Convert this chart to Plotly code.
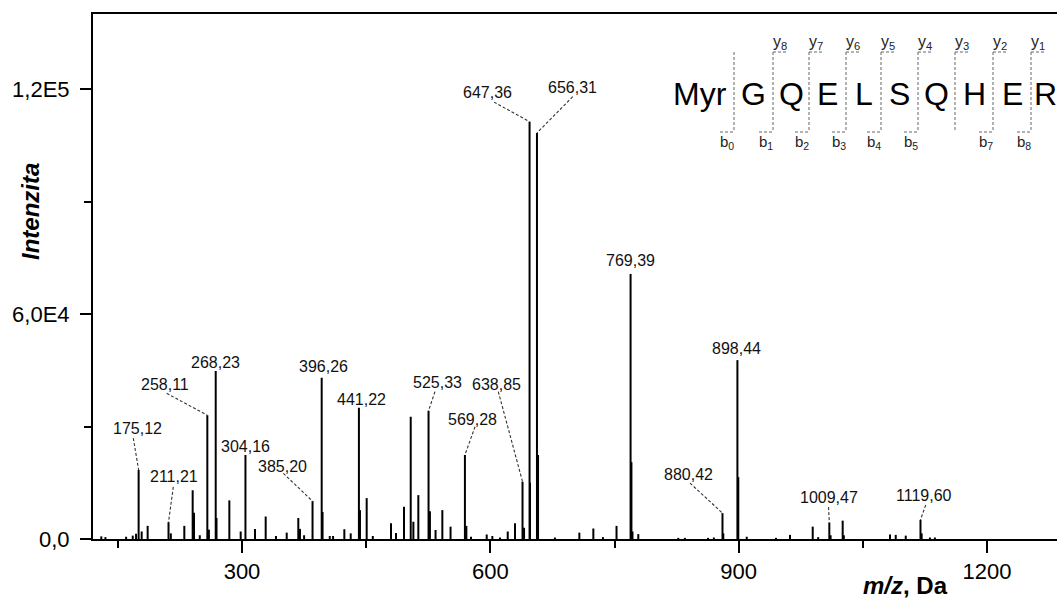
import plotly.graph_objects as go

# ---- MS/MS spectrum of Myr-GQELSQHER ----
# Annotated fragment peaks (m/z, intensity)
label_mz = [175.12, 211.21, 258.11, 268.23, 304.16, 385.20, 396.26, 441.22,
            525.33, 569.28, 638.85, 647.36, 656.31, 769.39, 880.42, 898.44,
            1009.47, 1119.60]
label_int = [18400, 4500, 33000, 44800, 22400, 10100, 43000, 35000,
             34200, 22400, 15300, 111300, 108300, 70700, 6900, 47700,
             4400, 5100]

# Remaining (unlabelled) peaks
other_mz = [130, 135, 160, 168, 172, 178.8, 186.0, 214.0, 230.3, 240.4, 242.0,
            249.0, 260.0, 269.2, 284.7, 298.4, 315.7, 328.6, 341.0, 354.0,
            368.0, 370.0, 375.0, 397.3, 406.0, 410.0, 423.6, 431.3, 442.5,
            450.6, 458.0, 480.0, 486.0, 495.7, 503.8, 507.0, 513.0, 527.0,
            533.8, 542.0, 551.9, 571.0, 576.6, 595.6, 602.4, 611.7, 621.0,
            629.8, 640.7, 647.86, 657.6, 678.0, 707.5, 724.4, 736.0, 752.4,
            770.4, 771.7, 778.7, 827.0, 835.0, 863.0, 870.0, 881.4, 899.5,
            909.7, 945.0, 962.0, 989.4, 996.0, 1011.0, 1025.6, 1027.0,
            1082.8, 1089.7, 1101.8, 1121.0, 1131.0, 1137.0]
other_int = [700, 500, 600, 900, 1400, 2000, 3500, 1500, 3500, 13000, 7000,
             1000, 2500, 5600, 10300, 2000, 2700, 6000, 800, 1700,
             5600, 2700, 1000, 7200, 800, 800, 2600, 1500, 7700,
             10900, 800, 4200, 1600, 8600, 32600, 4600, 11700, 7400,
             2400, 7700, 3300, 3500, 600, 1200, 800, 400, 2000,
             4200, 3000, 15000, 22400, 400, 1700, 2800, 500, 3500,
             20500, 2000, 1300, 300, 300, 300, 400, 1500, 16500,
             600, 300, 1100, 3300, 500, 1000, 4900, 1000,
             1200, 1100, 900, 1500, 400, 400]

# Peak label text and label placement (m/z, intensity) plus optional leader start
label_text = ["175,12", "211,21", "258,11", "268,23", "304,16", "385,20",
              "396,26", "441,22", "525,33", "569,28", "638,85", "647,36",
              "656,31", "769,39", "880,42", "898,44", "1009,47", "1119,60"]
label_pos = [(173.2, 29600), (217.6, 16800), (206.7, 41250), (268.3, 47000),
             (304.2, 24800), (349.5, 19300), (398.7, 46100), (444.0, 37250),
             (536.2, 41700), (578.7, 31900), (607.7, 41250), (596.0, 119200),
             (699.2, 120350), (768.7, 74400), (838.8, 17070), (896.8, 50900),
             (1009.1, 11200), (1123.6, 11700)]
leader_from = [(168.7, 26900), (217.0, 13900), (209.0, 38850), None,
               None, (349.9, 17500), None, None,
               (533.1, 39300), (581.5, 29950), (609.6, 39300), (604.4, 116500),
               (699.5, 117950), None, (841.2, 14900), None,
               (1008.5, 8500), (1125.9, 9070)]

# Peptide sequence with fragment ion ladders
residues = ["Myr", "G", "Q", "E", "L", "S", "Q", "H", "E", "R"]
y_ions = ["8", "7", "6", "5", "4", "3", "2", "1"]
b_ions = ["0", "1", "2", "3", "4", "5", None, "7", "8"]

FONT = "Arial, 'Liberation Sans', sans-serif"

all_mz = label_mz + other_mz
all_int = label_int + other_int

# build stick spectrum
xs, ys = [], []
for m, v in sorted(zip(all_mz, all_int)):
    xs += [m, m, None]
    ys += [0, v, None]

fig = go.Figure()
fig.add_trace(go.Scatter(x=xs, y=ys, mode="lines",
                         line=dict(color="black", width=2),
                         hoverinfo="skip", showlegend=False))

annotations = []
shapes = []

# peak labels and dashed leaders
for txt, (lx, ly), lf, m, v in zip(label_text, label_pos, leader_from,
                                    label_mz, label_int):
    annotations.append(dict(x=lx, y=ly, xref="x", yref="y", text=txt,
                            showarrow=False, xanchor="center", yanchor="middle",
                            font=dict(family=FONT, size=16, color="#111")))
    if lf is not None:
        shapes.append(dict(type="line", xref="x", yref="y",
                           x0=lf[0], y0=lf[1], x1=m, y1=v,
                           line=dict(color="#333", width=1.1, dash="3px,2px")))

# ---- peptide diagram (positions in plot-area pixels) ----
PL, PT, PW, PH = 93, 14, 964, 525


def fx(px):
    return (px - PL) / PW


def fy(py):
    return (PT + PH - py) / PH


seps = [734, 773, 809, 846, 881, 918, 955, 993, 1031]
res_x = [700] + [(a + b) / 2 for a, b in zip(seps[:-1], seps[1:])] + [1045]
for r, cx in zip(residues, res_x):
    annotations.append(dict(x=fx(cx), y=fy(94), xref="paper", yref="paper",
                            text=r, showarrow=False, xanchor="center",
                            yanchor="middle",
                            font=dict(family=FONT, size=32, color="black")))

sep_style = dict(color="#666", width=1, dash="3px,2px")
top_y, bot_y = 52, 132
for s in seps:
    shapes.append(dict(type="line", xref="paper", yref="paper",
                       x0=fx(s), x1=fx(s), y0=fy(top_y), y1=fy(bot_y),
                       line=sep_style))
for s, n in zip(seps[1:], y_ions):
    shapes.append(dict(type="line", xref="paper", yref="paper",
                       x0=fx(s), x1=fx(s + 14), y0=fy(top_y), y1=fy(top_y),
                       line=sep_style))
    annotations.append(dict(x=fx(s + 7), y=fy(43), xref="paper", yref="paper",
                            text="y<sub>" + n + "</sub>", showarrow=False,
                            xanchor="center", yanchor="middle",
                            font=dict(family=FONT, size=16, color="#222")))
for s, n in zip(seps, b_ions):
    if n is None:
        continue
    shapes.append(dict(type="line", xref="paper", yref="paper",
                       x0=fx(s - 14), x1=fx(s), y0=fy(bot_y), y1=fy(bot_y),
                       line=sep_style))
    annotations.append(dict(x=fx(s - 7), y=fy(143), xref="paper", yref="paper",
                            text="b<sub>" + n + "</sub>", showarrow=False,
                            xanchor="center", yanchor="middle",
                            font=dict(family=FONT, size=15, color="#222")))

# axis titles
annotations.append(dict(x=fx(31), y=fy(212), xref="paper", yref="paper",
                        text="<b><i>Intenzita</i></b>", textangle=-90,
                        showarrow=False, xanchor="center", yanchor="middle",
                        font=dict(family=FONT, size=24, color="black")))
annotations.append(dict(x=fx(905), y=fy(585), xref="paper", yref="paper",
                        text="<b><i>m/z</i>, Da</b>",
                        showarrow=False, xanchor="center", yanchor="middle",
                        font=dict(family=FONT, size=24, color="black")))

fig.update_layout(
    width=1057, height=601,
    margin=dict(l=PL, r=0, t=PT, b=601 - PT - PH),
    paper_bgcolor="white", plot_bgcolor="white",
    font=dict(family=FONT, color="black"),
    annotations=annotations, shapes=shapes,
    showlegend=False,
)
fig.update_xaxes(
    range=[120, 1284.5], showgrid=False, zeroline=False,
    showline=True, linecolor="black", linewidth=2, mirror=True,
    ticks="outside", ticklen=12, tickwidth=2, tickcolor="black",
    tickvals=[300, 600, 900, 1200], ticktext=["300", "600", "900", "1200"],
    tickfont=dict(family=FONT, size=22, color="black"),
    minor=dict(tickvals=[150, 450, 750, 1050], ticks="outside", ticklen=7,
               tickwidth=2, tickcolor="black"),
)
fig.update_yaxes(
    range=[0, 140000], showgrid=False, zeroline=False,
    showline=True, linecolor="black", linewidth=2,
    ticks="outside", ticklen=11, tickwidth=2, tickcolor="black",
    tickvals=[0, 60000, 120000], ticktext=["0,0", "6,0E4", "1,2E5"],
    tickfont=dict(family=FONT, size=22, color="black"),
    ticklabelstandoff=6,
    minor=dict(tickvals=[30000, 90000], ticks="outside", ticklen=7,
               tickwidth=2, tickcolor="black"),
)

fig.write_html("out.html")
